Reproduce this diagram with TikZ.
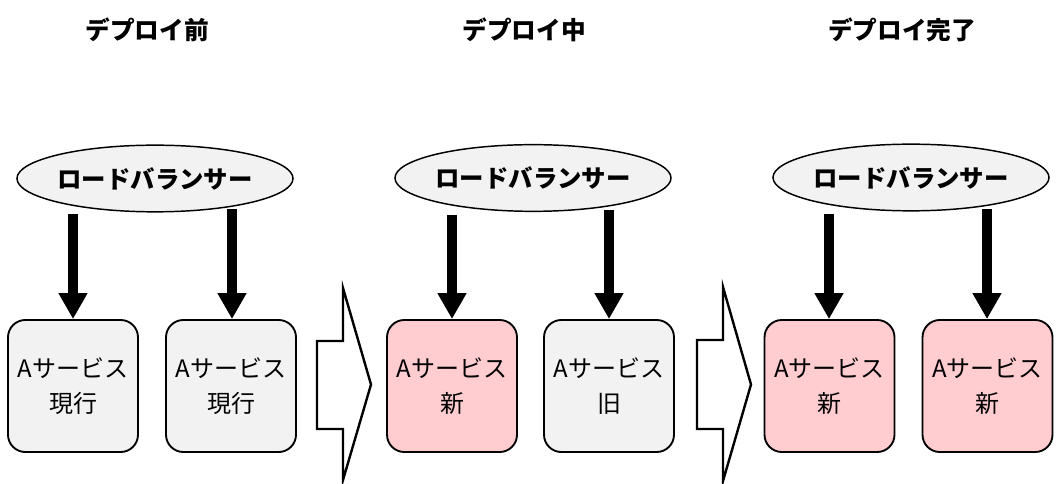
\documentclass[tikz,border=0pt]{standalone}
\usepackage{fontspec}
\setmainfont{Noto Sans CJK JP}
\usetikzlibrary{shapes.geometric,arrows.meta}
\definecolor{boxgray}{HTML}{F2F2F2}
\definecolor{boxpink}{HTML}{FFCCD0}
\tikzset{
  title/.style={font=\bfseries\fontsize{18.5pt}{22pt}\selectfont, inner sep=0pt},
  lb/.style={ellipse, draw=black, line width=1.1pt, fill=boxgray, minimum width=183pt, minimum height=50pt, inner sep=0pt, font=\bfseries\fontsize{18.3pt}{22pt}\selectfont},
  svc/.style={rounded corners=13pt, draw=black, line width=1.4pt, minimum width=97.5pt, minimum height=99pt, inner sep=0pt, align=center, font=\fontsize{18pt}{26pt}\selectfont},
  oldsvc/.style={svc, fill=boxgray},
  newsvc/.style={svc, fill=boxpink},
  conn/.style={line width=7.5pt, -{Triangle[width=20.5pt,length=19.5pt]}},
  bigarrow/.style={draw=black, line width=1.8pt, fill=white, line join=miter}
}
\begin{document}
\begin{tikzpicture}[x=0.75pt,y=-0.75pt]
\useasboundingbox (0,0) rectangle (1060,484);
% titles
\node[title] (t1) at (147,30) {デプロイ前};
\node[title] (t2) at (524,30) {デプロイ中};
\node[title] (t3) at (902,30) {デプロイ完了};
% load balancers
\node[lb] (e1) at (155,178.5) {ロードバランサー};
\node[lb] (e2) at (533,178) {ロードバランサー};
\node[lb] (e3) at (911,177.5) {ロードバランサー};
% services
\node[oldsvc] (b1) at (73,386) {Aサービス\\現行};
\node[oldsvc] (b2) at (231,386) {Aサービス\\現行};
\node[newsvc] (b3) at (452,386) {Aサービス\\新};
\node[oldsvc] (b4) at (609,386) {Aサービス\\旧};
\node[newsvc] (b5) at (829.5,386) {Aサービス\\新};
\node[newsvc] (b6) at (987.5,386) {Aサービス\\新};
% connectors
\coordinate (s1) at (73,214);
\coordinate (s2) at (232,209);
\coordinate (s3) at (452,215);
\coordinate (s4) at (609,210);
\coordinate (s5) at (829,214);
\coordinate (s6) at (987,209);
\draw[conn] (s1) -- (b1.north);
\draw[conn] (s2) -- (b2.north -| s2);
\draw[conn] (s3) -- (b3.north);
\draw[conn] (s4) -- (b4.north);
\draw[conn] (s5) -- (b5.north -| s5);
\draw[conn] (s6) -- (b6.north -| s6);
% block arrows
\draw[bigarrow] (317,341) -- (343,341) -- (343,288) -- (371,384.5) -- (343,480) -- (343,429) -- (317,429) -- cycle;
\draw[bigarrow] (697,340) -- (723,340) -- (723,287) -- (751,384.5) -- (723,481) -- (723,429) -- (697,429) -- cycle;
\end{tikzpicture}
\end{document}
